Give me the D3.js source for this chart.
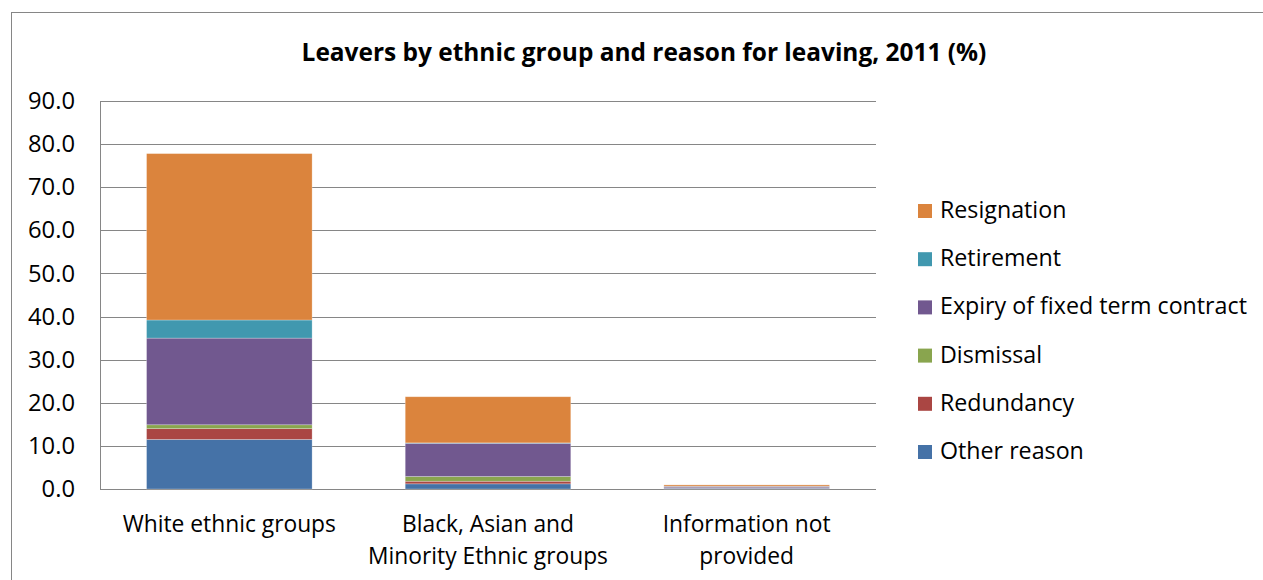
<!DOCTYPE html>
<html><head><meta charset="utf-8">
<script src="https://cdn.jsdelivr.net/npm/d3@7"></script>
<style>body{margin:0;background:#fff}svg{display:block;font-family:"Open Sans",sans-serif}</style>
</head><body>
<script>
const categories = ["White ethnic groups", "Black, Asian and Minority Ethnic groups", "Information not provided"];
const categoryLines = [["White ethnic groups"], ["Black, Asian and", "Minority Ethnic groups"], ["Information not", "provided"]];
const seriesNames = ["Other reason", "Redundancy", "Dismissal", "Expiry of fixed term contract", "Retirement", "Resignation"];
const otherReason = [11.5, 1.2, 0.2];
const redundancy = [2.5, 0.6, 0.05];
const dismissal = [0.9, 1.1, 0.05];
const expiry = [20.1, 7.7, 0.3];
const retirement = [4.2, 0.1, 0.05];
const resignation = [38.6, 10.7, 0.3];
const yTicks = [0, 10, 20, 30, 40, 50, 60, 70, 80, 90];
const colors = ["#4572A7", "#AA4643", "#89A54E", "#71588F", "#4198AF", "#DB843D"];
const title = "Leavers by ethnic group and reason for leaving, 2011 (%)";

const W = 1263, H = 580;
const svg = d3.select("body").append("svg").attr("width", W).attr("height", H);
svg.append("rect").attr("x", 11.5).attr("y", 12.5).attr("width", W + 10).attr("height", H + 10)
  .attr("fill", "#fff").attr("stroke", "#868686").attr("stroke-width", 1);

// font size fitting helper: size so that a sample string spans target width
function fitSize(sample, target, weight) {
  const t = svg.append("text").attr("font-size", 20).attr("font-weight", weight || "normal").text(sample);
  const w = t.node().getComputedTextLength();
  t.remove();
  return 20 * target / w;
}
const fsTitle = fitSize(title, 685, "bold");
const fsLegend = fitSize("Expiry of fixed term contract", 307);
const fsTick = fitSize("90.0", 47);
const fsX = fitSize("Minority Ethnic groups", 240);

const plot = {left: 100, right: 876, top: 101, bottom: 489};
const y = d3.scaleLinear().domain([0, 90]).range([plot.bottom, plot.top]);
const x = d3.scaleBand().domain(categories).range([plot.left, plot.right]).paddingInner(0.36).paddingOuter(0.18);

svg.append("g").selectAll("line").data(yTicks).join("line")
  .attr("x1", plot.left).attr("x2", plot.right)
  .attr("y1", d => Math.round(y(d)) + 0.5).attr("y2", d => Math.round(y(d)) + 0.5)
  .attr("stroke", "#868686").attr("stroke-width", 1);
svg.append("line").attr("x1", plot.left + 0.5).attr("x2", plot.left + 0.5)
  .attr("y1", plot.top).attr("y2", plot.bottom).attr("stroke", "#868686");

const yAxis = d3.axisLeft(y).tickValues(yTicks).tickFormat(d3.format(".1f")).tickSize(0).tickPadding(25);
const ga = svg.append("g").attr("transform", `translate(${plot.left},0)`).call(yAxis);
ga.select(".domain").remove();
ga.selectAll("text").attr("font-size", fsTick).attr("fill", "#000").attr("font-family", "'Open Sans',sans-serif");

const stackData = categories.map((c, i) => {
  const vals = [otherReason[i], redundancy[i], dismissal[i], expiry[i], retirement[i], resignation[i]];
  const o = {cat: c}; seriesNames.forEach((s, j) => o[s] = vals[j]); return o;
});
const stacked = d3.stack().keys(seriesNames)(stackData);

svg.append("g").selectAll("g").data(stacked).join("g").attr("fill", (d, i) => colors[i])
  .selectAll("rect").data(d => d).join("rect")
  .attr("x", d => x(d.data.cat))
  .attr("width", x.bandwidth())
  .attr("y", d => y(d[1]))
  .attr("height", d => Math.max(0, y(d[0]) - y(d[1])))
  .attr("stroke", "rgba(255,255,255,0.35)").attr("stroke-width", 0.75);

const xl = svg.append("g");
categories.forEach((c, i) => {
  const cx = x(c) + x.bandwidth() / 2;
  const t = xl.append("text").attr("x", cx).attr("y", 532)
    .attr("text-anchor", "middle").attr("font-size", fsX).attr("fill", "#000");
  categoryLines[i].forEach((ln, k) => t.append("tspan").attr("x", cx).attr("dy", k === 0 ? 0 : 32).text(ln));
});

svg.append("text").attr("x", 644).attr("y", 61).attr("text-anchor", "middle")
  .attr("font-size", fsTitle).attr("font-weight", "bold").attr("fill", "#000").text(title);

const legendOrder = seriesNames.map((s, i) => ({s, c: colors[i]})).reverse();
const lg = svg.append("g");
legendOrder.forEach((d, i) => {
  const cy = 210 + i * 48.2;
  lg.append("rect").attr("x", 918).attr("y", cy - 6).attr("width", 14).attr("height", 14).attr("fill", d.c);
  lg.append("text").attr("x", 940).attr("y", cy + 8).attr("font-size", fsLegend).attr("fill", "#000").text(d.s);
});
</script>
</body></html>
